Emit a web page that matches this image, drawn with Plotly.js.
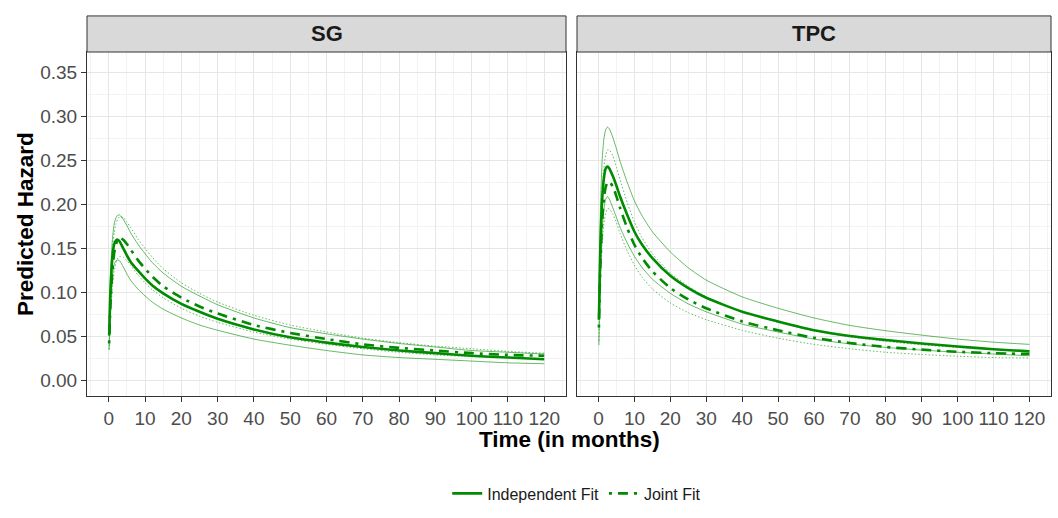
<!DOCTYPE html>
<html>
<head>
<meta charset="utf-8">
<script src="https://cdn.plot.ly/plotly-3.0.1.min.js"></script>
<style>
  html, body { margin: 0; padding: 0; background: #fff; }
  #chart { width: 1058px; height: 518px; }
</style>
</head>
<body>
<div id="chart"></div>
<script>
// Follow-up times (months) at which the hazard curves are evaluated
const months = [0.1, 0.5, 1, 1.5, 2, 2.5, 3, 4, 5, 6, 8, 10, 12, 15, 20, 25, 30, 40, 50, 60, 70, 80, 90, 100, 110, 120];

// SG: independent fit with its pointwise band
const sgIndep   = [0.051, 0.105, 0.140, 0.155, 0.159, 0.160, 0.158, 0.150, 0.142, 0.135, 0.125, 0.116, 0.108, 0.099, 0.087, 0.078, 0.070, 0.058, 0.049, 0.043, 0.038, 0.034, 0.031, 0.028, 0.026, 0.024];
const sgIndepLo = [0.035, 0.085, 0.118, 0.132, 0.136, 0.137, 0.136, 0.129, 0.121, 0.114, 0.104, 0.096, 0.089, 0.081, 0.071, 0.063, 0.057, 0.047, 0.040, 0.034, 0.029, 0.026, 0.024, 0.022, 0.020, 0.019];
const sgIndepHi = [0.065, 0.125, 0.160, 0.178, 0.185, 0.188, 0.188, 0.183, 0.176, 0.168, 0.155, 0.144, 0.134, 0.122, 0.107, 0.096, 0.086, 0.071, 0.060, 0.053, 0.047, 0.042, 0.038, 0.034, 0.032, 0.030];
// SG: joint fit with its pointwise band
const sgJoint   = [0.042, 0.090, 0.125, 0.145, 0.155, 0.160, 0.162, 0.160, 0.155, 0.149, 0.137, 0.127, 0.118, 0.107, 0.094, 0.084, 0.076, 0.063, 0.054, 0.047, 0.041, 0.037, 0.034, 0.031, 0.029, 0.028];
const sgJointLo = [0.035, 0.075, 0.105, 0.124, 0.134, 0.139, 0.141, 0.140, 0.136, 0.131, 0.120, 0.111, 0.103, 0.094, 0.082, 0.073, 0.066, 0.055, 0.047, 0.041, 0.036, 0.032, 0.029, 0.027, 0.026, 0.025];
const sgJointHi = [0.050, 0.110, 0.148, 0.168, 0.178, 0.184, 0.186, 0.185, 0.180, 0.174, 0.161, 0.150, 0.140, 0.127, 0.111, 0.099, 0.089, 0.074, 0.063, 0.055, 0.048, 0.043, 0.039, 0.036, 0.033, 0.031];

// TPC: independent fit with its pointwise band
const tpcIndep   = [0.069, 0.150, 0.205, 0.230, 0.241, 0.243, 0.241, 0.232, 0.221, 0.209, 0.188, 0.169, 0.155, 0.139, 0.119, 0.105, 0.094, 0.078, 0.067, 0.057, 0.0505, 0.046, 0.042, 0.0385, 0.0355, 0.033];
const tpcIndepLo = [0.040, 0.120, 0.170, 0.195, 0.206, 0.209, 0.206, 0.196, 0.185, 0.174, 0.156, 0.141, 0.129, 0.115, 0.099, 0.087, 0.078, 0.064, 0.055, 0.047, 0.0415, 0.0375, 0.0345, 0.032, 0.030, 0.028];
const tpcIndepHi = [0.090, 0.190, 0.250, 0.275, 0.285, 0.288, 0.286, 0.276, 0.263, 0.249, 0.225, 0.204, 0.188, 0.169, 0.146, 0.128, 0.114, 0.095, 0.082, 0.071, 0.0625, 0.0565, 0.0515, 0.047, 0.0435, 0.041];
// TPC: joint fit with its pointwise band
const tpcJoint   = [0.060, 0.130, 0.180, 0.207, 0.220, 0.225, 0.226, 0.220, 0.209, 0.196, 0.173, 0.154, 0.140, 0.124, 0.105, 0.092, 0.082, 0.067, 0.057, 0.0485, 0.0425, 0.038, 0.035, 0.0325, 0.031, 0.030];
const tpcJointLo = [0.045, 0.110, 0.155, 0.178, 0.190, 0.195, 0.195, 0.189, 0.179, 0.167, 0.147, 0.131, 0.118, 0.104, 0.088, 0.077, 0.069, 0.057, 0.048, 0.041, 0.036, 0.032, 0.0295, 0.0275, 0.026, 0.0255];
const tpcJointHi = [0.075, 0.160, 0.215, 0.243, 0.256, 0.262, 0.262, 0.255, 0.242, 0.228, 0.202, 0.180, 0.163, 0.144, 0.122, 0.107, 0.095, 0.078, 0.066, 0.0565, 0.0495, 0.0445, 0.0405, 0.0375, 0.0355, 0.034];

const panelNames = ['SG', 'TPC'];
const seriesNames = ['Independent Fit', 'Joint Fit'];
const xTicks = [0, 10, 20, 30, 40, 50, 60, 70, 80, 90, 100, 110, 120];
const yTicks = [0.00, 0.05, 0.10, 0.15, 0.20, 0.25, 0.30, 0.35];

// minor grid lines sit halfway between the labelled ticks
const midpoints = arr => arr.slice(0, -1).map((v, i) => (v + arr[i + 1]) / 2)
  .concat([arr[arr.length - 1] + (arr[1] - arr[0]) / 2]);

const GREEN = '#008B00';
const panels = [
  {ax: ['x', 'y'],   indep: sgIndep,  lo: sgIndepLo,  hi: sgIndepHi,  joint: sgJoint,  jlo: sgJointLo,  jhi: sgJointHi},
  {ax: ['x2', 'y2'], indep: tpcIndep, lo: tpcIndepLo, hi: tpcIndepHi, joint: tpcJoint, jlo: tpcJointLo, jhi: tpcJointHi}
];

const traces = [];
panels.forEach((p, i) => {
  const base = {x: months, xaxis: p.ax[0], yaxis: p.ax[1], mode: 'lines', hoverinfo: 'skip'};
  const band = {color: GREEN, width: 0.8, shape: 'spline', smoothing: 0.6};
  traces.push(Object.assign({}, base, {y: p.hi, line: Object.assign({}, band), opacity: 0.75, showlegend: false}));
  traces.push(Object.assign({}, base, {y: p.lo, line: Object.assign({}, band), opacity: 0.75, showlegend: false}));
  traces.push(Object.assign({}, base, {y: p.jhi, line: Object.assign({}, band, {dash: '1.5px,2px'}), opacity: 0.75, showlegend: false}));
  traces.push(Object.assign({}, base, {y: p.jlo, line: Object.assign({}, band, {dash: '1.5px,2px'}), opacity: 0.75, showlegend: false}));
  traces.push(Object.assign({}, base, {y: p.indep, name: seriesNames[0], legendgroup: 'ind', showlegend: i === 0,
    line: {color: GREEN, width: 2.6, shape: 'spline', smoothing: 0.6}}));
  traces.push(Object.assign({}, base, {y: p.joint, name: seriesNames[1], legendgroup: 'jnt', showlegend: i === 0,
    line: {color: GREEN, width: 2.6, shape: 'spline', smoothing: 0.6, dash: '3px,6px,10px,6px'}}));
});

const FONT = 'Liberation Sans, Arial, sans-serif';
const xCommon = {
  range: [-6, 126], tickvals: xTicks, ticktext: xTicks.map(String),
  ticks: 'outside', ticklen: 5, tickcolor: '#333333', tickwidth: 1,
  tickfont: {family: FONT, size: 19, color: '#4D4D4D'},
  showgrid: true, gridcolor: '#E6E6E6', gridwidth: 1,
  minor: {tickmode: 'array', tickvals: midpoints(xTicks).concat([-5]), showgrid: true, gridcolor: '#F3F3F3', gridwidth: 1, ticks: ''},
  showline: true, mirror: true, linecolor: '#333333', linewidth: 1,
  zeroline: false, fixedrange: true
};
const yCommon = {
  range: [-0.0177, 0.3733], tickvals: yTicks, ticktext: yTicks.map(v => v.toFixed(2)),
  ticks: 'outside', ticklen: 5, tickcolor: '#333333', tickwidth: 1,
  tickfont: {family: FONT, size: 19, color: '#4D4D4D'},
  showgrid: true, gridcolor: '#E6E6E6', gridwidth: 1,
  minor: {tickmode: 'array', tickvals: midpoints(yTicks), showgrid: true, gridcolor: '#F3F3F3', gridwidth: 1, ticks: ''},
  showline: true, mirror: true, linecolor: '#333333', linewidth: 1,
  zeroline: false, fixedrange: true
};

const dom1 = [0, 0.4969];
const dom2 = [0.5083, 1];
const stripTop = 1 + 37 / 353;

const shapes = [dom1, dom2].map(d => ({
  type: 'rect', xref: 'paper', yref: 'paper', x0: d[0], x1: d[1], y0: 1, y1: stripTop,
  fillcolor: '#D9D9D9', line: {color: '#333333', width: 1}, layer: 'above'
}));

const annotations = [dom1, dom2].map((d, i) => ({
  xref: 'paper', yref: 'paper', x: (d[0] + d[1]) / 2, y: (1 + stripTop) / 2,
  text: '<b>' + panelNames[i] + '</b>', showarrow: false, xanchor: 'center', yanchor: 'middle',
  font: {family: FONT, size: 22, color: '#1A1A1A'}
}));
annotations.push({
  xref: 'paper', yref: 'paper', x: 0.5, y: -45 / 353, yanchor: 'middle', xanchor: 'center',
  text: '<b>Time (in months)</b>', showarrow: false, font: {family: FONT, size: 22.5, color: '#000'}
});
annotations.push({
  xref: 'paper', yref: 'paper', x: -62 / 964, y: 0.5, xanchor: 'center', yanchor: 'middle',
  text: '<b>Predicted Hazard</b>', textangle: -90, showarrow: false, font: {family: FONT, size: 22.5, color: '#000'}
});

const layout = {
  width: 1058, height: 518,
  margin: {l: 87, r: 7, t: 52, b: 113},
  paper_bgcolor: '#FFFFFF', plot_bgcolor: '#FFFFFF',
  font: {family: FONT},
  xaxis: Object.assign({}, xCommon, {domain: dom1, anchor: 'y'}),
  yaxis: Object.assign({}, yCommon, {anchor: 'x'}),
  xaxis2: Object.assign({}, xCommon, {domain: dom2, anchor: 'y2'}),
  yaxis2: Object.assign({}, yCommon, {anchor: 'x2', showticklabels: false, ticks: ''}),
  shapes: shapes,
  annotations: annotations,
  showlegend: true,
  legend: {
    orientation: 'h', x: 0.508, xanchor: 'center', y: -100 / 353, yanchor: 'middle',
    font: {family: FONT, size: 16, color: '#1A1A1A'}, itemwidth: 30, tracegroupgap: 0,
    bgcolor: 'rgba(0,0,0,0)'
  }
};

Plotly.newPlot('chart', traces, layout, {displayModeBar: false, staticPlot: true});
</script>
</body>
</html>
